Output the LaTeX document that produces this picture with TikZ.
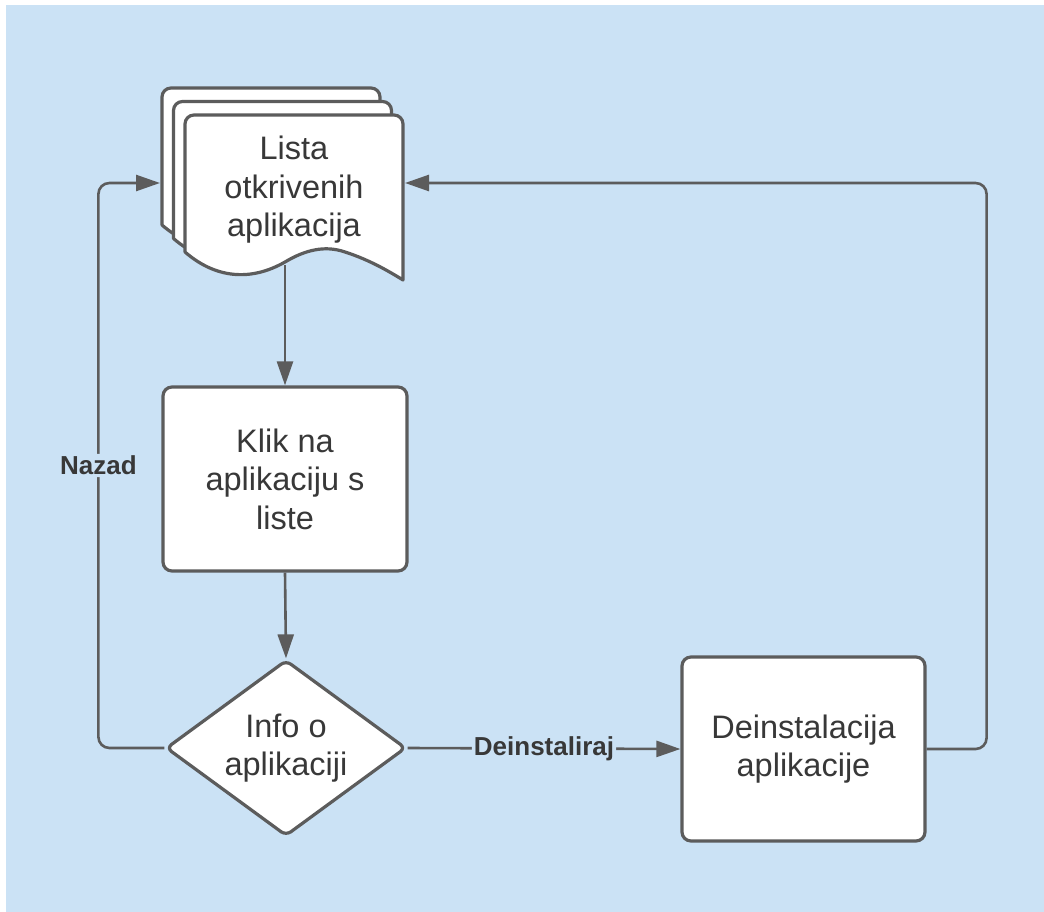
\documentclass[tikz,border=0pt]{standalone}
\usepackage{fontspec}
\setmainfont{Liberation Sans}
\usetikzlibrary{arrows.meta,shapes.geometric}
\definecolor{bgblue}{HTML}{CBE2F5}
\definecolor{linegray}{HTML}{5C5C5C}
\definecolor{txtgray}{HTML}{383838}
\tikzset{
  sheet/.style={draw=linegray,line width=3.2pt,fill=white,line join=round},
  procbox/.style={draw=linegray,line width=3.2pt,fill=white,rounded corners=9pt,
    text=txtgray,align=center,inner sep=0pt,font=\fontsize{32.5}{38.5}\selectfont},
  decision/.style={diamond,shape aspect=1.37,draw=linegray,line width=3.2pt,fill=white,rounded corners=6pt,
    text=txtgray,align=center,inner sep=0pt,font=\fontsize{32.5}{38.5}\selectfont},
  doctext/.style={text=txtgray,align=center,inner sep=0pt,font=\fontsize{32.5}{38.5}\selectfont},
  conn/.style={draw=linegray,line width=2.6pt,rounded corners=11pt},
  arr/.style={-{Triangle[length=24pt,width=16pt]}},
  edgelabel/.style={fill=bgblue,text=txtgray,inner sep=2pt,font=\bfseries\fontsize{26}{30}\selectfont}
}
\newcommand\docsheet{%
  \path[sheet] (185,252) [rounded corners=9pt] -- (185,115) -- (403,115) [sharp corners] -- (403,280)
    .. controls (390,272) and (370,260) .. (345,252)
    .. controls (325,245) and (305,250) .. (285,262)
    .. controls (250,282) and (215,278) .. (185,252) -- cycle;}
\begin{document}
\begin{tikzpicture}[x=1pt,y=-1pt]
\useasboundingbox (0,0) rectangle (1044,912);
\fill[white] (0,0) rectangle (1044,912);
\fill[bgblue] (6,5) rectangle (1044,912);
% stacked documents
\begin{scope}[shift={(-23,-27)}]\docsheet\end{scope}
\begin{scope}[shift={(-11.5,-13.5)}]\docsheet\end{scope}
\docsheet
\node[doctext,minimum width=218pt,minimum height=150pt] (doc) at (294,190) {Lista\\otkrivenih\\aplikacija};
\coordinate (docL) at (160,183);
\coordinate (docR) at (405,183);
% process nodes
\node[procbox,minimum width=244pt,minimum height=184pt] (klik) at (285,479) {Klik na\\aplikaciju s\\liste};
\node[decision,minimum width=240pt,minimum height=176pt] (info) at (286,748) {Info o\\aplikaciji};
\node[procbox,minimum width=243pt,minimum height=184pt] (deinst) at (803.5,749) {Deinstalacija\\aplikacije};
% connectors
\draw[conn,arr] (doc.south -| klik.north) -- (klik.north);
\draw[conn,arr] (klik.south) -- (info.north);
\draw[conn,arr] (info.east) -- node[edgelabel,pos=0.5] {Deinstaliraj} (deinst.west);
\draw[conn,arr] (deinst.east) -- ++(60,0) |- (docR);
\draw[conn,arr] (info.west) -- ++(-66,0) |- node[edgelabel,pos=0.25] {Nazad} (docL);
\end{tikzpicture}
\end{document}
